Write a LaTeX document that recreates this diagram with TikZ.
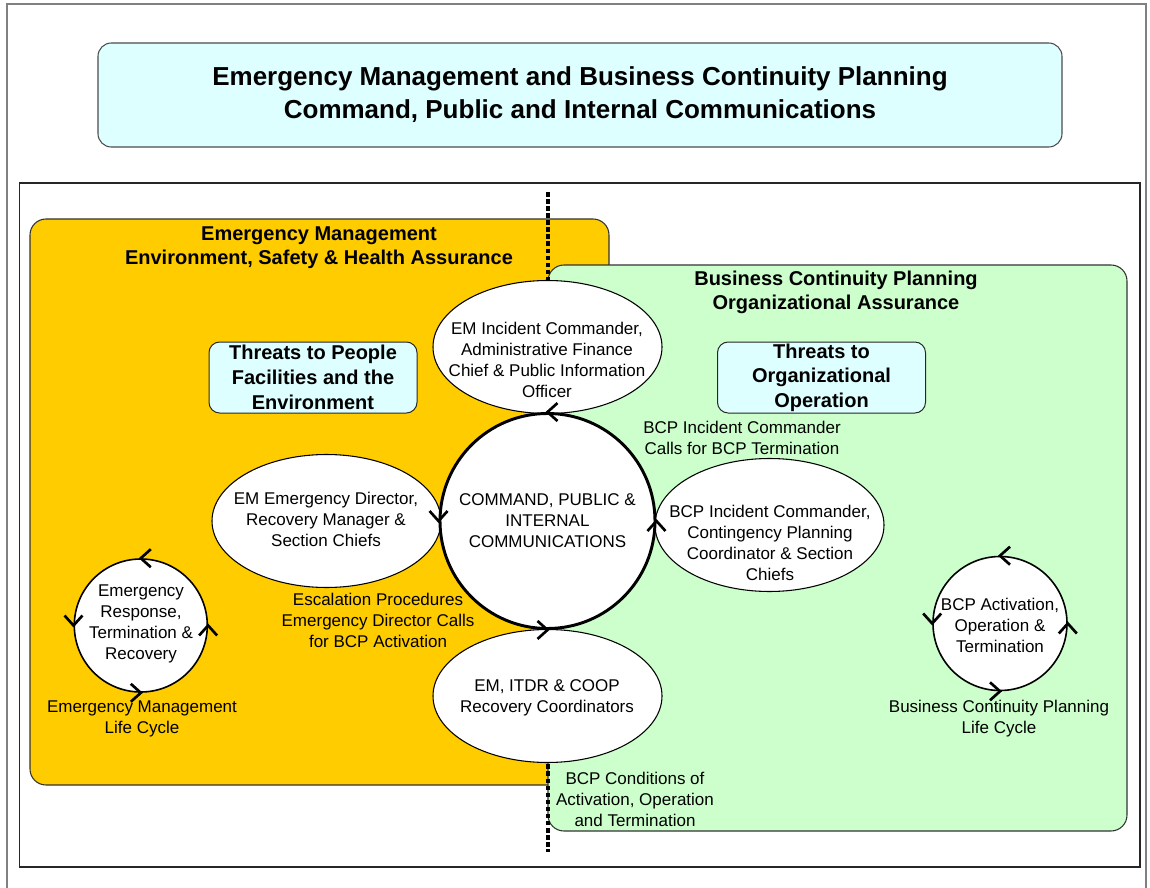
\documentclass[tikz,border=0pt]{standalone}
\usepackage{fontspec}
\setmainfont{Liberation Sans}
\usetikzlibrary{shapes.geometric}
\definecolor{orangebg}{HTML}{FFCC00}
\definecolor{greenbg}{HTML}{CCFFCC}
\definecolor{cyanbg}{HTML}{DDFFFF}
\newcommand\chevleft[1]{\draw[chev] (#1) ++(10,-9) -- (#1) -- ++(10,9);}
\newcommand\chevright[1]{\draw[chev] (#1) ++(-10,-9) -- (#1) -- ++(-10,9);}
\newcommand\chevdown[1]{\draw[chev] (#1) ++(-9,-10) -- (#1) -- ++(9,-10);}
\newcommand\chevup[1]{\draw[chev] (#1) ++(-9,10) -- (#1) -- ++(9,10);}
\begin{document}
\begin{tikzpicture}[x=0.75pt,y=-0.75pt,
  body/.style={font=\fontsize{12.75}{15.75}\selectfont, align=center, inner sep=0pt},
  headtxt/.style={font=\bfseries\fontsize{15}{18}\selectfont, align=center, inner sep=0pt},
  threatbox/.style={draw=black!85, fill=cyanbg, rounded corners=8pt, line width=0.75pt,
     minimum width=156pt, minimum height=53.25pt, inner sep=0pt, align=center,
     font=\bfseries\fontsize{15}{18.5}\selectfont},
  roleell/.style={ellipse, draw=black, fill=white, line width=0.8pt,
     minimum width=171.75pt, minimum height=99.75pt, inner sep=0pt},
  smallcirc/.style={circle, draw=black, fill=white, line width=1.2pt, inner sep=0pt},
  chev/.style={line width=2pt, black},
  divider/.style={line width=2.6pt, dash pattern=on 3.4pt off 1.9pt, black}
]
\useasboundingbox (0,0) rectangle (1150,888);
\fill[white] (0,0) rectangle (1150,888);
% outer frame
\draw[black!50, line width=1pt] (7,900) -- (7,4) -- (1146,4) -- (1146,900);
% title
\node[draw=black!70, fill=cyanbg, rounded corners=10pt, line width=0.8pt,
      minimum width=723pt, minimum height=78pt, align=center,
      font=\bfseries\fontsize{19.5}{24.75}\selectfont] (title) at (580,95)
  {Emergency Management and Business Continuity Planning\\Command, Public and Internal Communications};
% inner frame
\draw[black!85, line width=0.9pt] (19.5,183) rectangle (1140,867);
% regions
\filldraw[fill=orangebg, draw=black!80, line width=0.8pt, rounded corners=12pt] (30,219) rectangle (609,785);
\filldraw[fill=greenbg, draw=black!80, line width=0.8pt, rounded corners=12pt] (548,265) rectangle (1127,831);
% divider
\coordinate (divtop) at (548,192);
\coordinate (divbot) at (548,852);
\draw[divider] (divtop) -- (divbot);
% headers
\node[headtxt] (emhead) at (319,248) {Emergency Management\\Environment, Safety \& Health Assurance};
\node[headtxt] (bcphead) at (836,292.5) {Business Continuity Planning\\Organizational Assurance};
% threat boxes
\node[threatbox] (threatL) at (313,377.5) {Threats to People\\Facilities and the\\Environment};
\node[threatbox] (threatR) at (821.5,377.5) {Threats to\\Organizational\\Operation};
% role ellipses
\node[roleell] (etop) at (547.5,347) {};
\node[roleell] (eleft) at (326.5,521) {};
\node[roleell] (eright) at (769.5,525) {};
\node[roleell] (ebot) at (547.5,696) {};
\node[body] (ttop) at (547,360) {EM Incident Commander,\\Administrative Finance\\Chief \& Public Information\\Officer};
\node[body] (tleft) at (326,519) {EM Emergency Director,\\Recovery Manager \&\\Section Chiefs};
\node[body] (tright) at (770,543) {BCP Incident Commander,\\Contingency Planning\\Coordinator \& Section\\Chiefs};
\node[body] (tbot) at (547,698) {EM, ITDR \& COOP\\Recovery Coordinators};
% main circle
\node[circle, draw=black, fill=white, line width=2.2pt, minimum size=161.25pt, inner sep=0pt,
      body] (main) at (547.5,521) {COMMAND, PUBLIC \&\\INTERNAL\\COMMUNICATIONS};
\chevleft{main.north}
\chevdown{main.west}
\chevright{main.south}
\chevup{main.east}
% life cycle circles
\node[smallcirc, minimum size=99.75pt] (emlc) at (140.8,625.5) {};
\node[body] (emlctxt) at (141,624) {Emergency\\Response,\\Termination \&\\Recovery};
\chevleft{emlc.north}
\chevdown{emlc.west}
\chevright{emlc.south}
\chevup{emlc.east}
\node[smallcirc, minimum size=100.5pt] (bcplc) at (1000,623.5) {};
\node[body] (bcplctxt) at (1000,625) {BCP Activation,\\Operation \&\\Termination};
\chevleft{bcplc.north}
\chevdown{bcplc.west}
\chevright{bcplc.south}
\chevup{bcplc.east}
% labels
\node[body] (emlclab) at (142,718.5) {Emergency Management\\Life Cycle};
\node[body] (bcplclab) at (999,718.5) {Business Continuity Planning\\Life Cycle};
\node[body] (termlab) at (742,437.5) {BCP Incident Commander\\Calls for BCP Termination};
\node[body] (esclab) at (378,620) {Escalation Procedures\\Emergency Director Calls\\for BCP Activation};
\node[body] (condlab) at (635,799) {BCP Conditions of\\Activation, Operation\\and Termination};
\end{tikzpicture}
\end{document}
